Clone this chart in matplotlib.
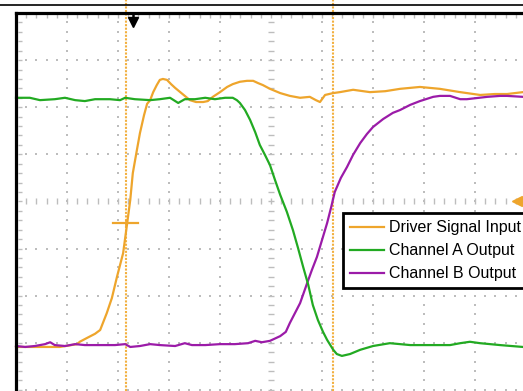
import matplotlib
matplotlib.use("Agg")
import matplotlib.pyplot as plt
import numpy as np

# Scope screen units: time and amplitude both in divisions (10 x 8 graticule)
drv_t = [0, 0.86, 1.2, 1.25, 1.39, 1.55, 1.65, 1.78, 1.88, 1.98,
         2.04, 2.1, 2.18, 2.24, 2.29, 2.37, 2.43, 2.51, 2.57, 2.63,
         2.69, 2.76, 2.82, 2.88, 2.96, 3.04, 3.12, 3.22, 3.31, 3.41,
         3.53, 3.67, 3.76, 3.86, 4.0, 4.14, 4.25, 4.39, 4.53, 4.65,
         4.75, 4.84, 4.98, 5.18, 5.37, 5.57, 5.76, 5.88, 5.96, 6.06,
         6.22, 6.35, 6.61, 6.94, 7.24, 7.53, 7.92, 8.31, 8.71, 9.1,
         9.39, 9.63, 9.94]
drv_v = [0.91, 0.91, 0.97, 1.02, 1.10, 1.19, 1.27, 1.63, 1.95, 2.40,
         2.65, 2.90, 3.54, 4.03, 4.60, 5.09, 5.45, 5.83, 6.07, 6.15,
         6.32, 6.47, 6.58, 6.60, 6.58, 6.49, 6.41, 6.32, 6.24, 6.15,
         6.11, 6.11, 6.13, 6.22, 6.32, 6.43, 6.49, 6.54, 6.56, 6.56,
         6.51, 6.47, 6.39, 6.30, 6.24, 6.20, 6.22, 6.15, 6.11, 6.26,
         6.30, 6.32, 6.37, 6.32, 6.34, 6.39, 6.43, 6.39, 6.32, 6.26,
         6.28, 6.28, 6.32]

cha_t = [0, 0.27, 0.47, 0.76, 0.96, 1.16, 1.35, 1.55, 1.84, 2.04,
         2.14, 2.33, 2.63, 2.82, 3.02, 3.18, 3.31, 3.51, 3.71, 3.9,
         4.1, 4.25, 4.33, 4.39, 4.49, 4.59, 4.69, 4.78, 4.88, 4.98,
         5.08, 5.18, 5.31, 5.43, 5.53, 5.63, 5.73, 5.82, 5.92, 6.02,
         6.1, 6.22, 6.29, 6.39, 6.55, 6.75, 7.0, 7.33, 7.73, 8.18,
         8.51, 8.71, 8.9, 9.1, 9.49, 9.94]
cha_v = [6.20, 6.20, 6.15, 6.17, 6.20, 6.15, 6.13, 6.17, 6.17, 6.15,
         6.20, 6.17, 6.15, 6.17, 6.20, 6.09, 6.17, 6.17, 6.20, 6.17,
         6.20, 6.20, 6.15, 6.09, 5.94, 5.73, 5.47, 5.20, 4.99, 4.77,
         4.45, 4.14, 3.78, 3.39, 3.01, 2.61, 2.23, 1.80, 1.48, 1.23,
         1.06, 0.85, 0.76, 0.72, 0.76, 0.85, 0.93, 0.99, 0.95, 0.95,
         0.95, 0.99, 1.02, 0.99, 0.95, 0.91]

chb_t = [0, 0.18, 0.37, 0.57, 0.67, 0.76, 0.96, 1.16, 1.35, 1.65,
         1.94, 2.14, 2.24, 2.43, 2.63, 2.82, 3.12, 3.31, 3.45, 3.71,
         4.0, 4.29, 4.55, 4.69, 4.82, 4.98, 5.18, 5.29, 5.37, 5.47,
         5.57, 5.71, 5.8, 5.9, 6.0, 6.1, 6.18, 6.25, 6.37, 6.49,
         6.61, 6.75, 6.88, 7.0, 7.2, 7.39, 7.53, 7.73, 7.92, 8.18,
         8.31, 8.51, 8.71, 8.84, 9.0, 9.24, 9.49, 9.63, 9.94]
chb_v = [0.93, 0.91, 0.93, 0.97, 1.01, 0.95, 0.93, 0.97, 0.95, 0.95,
         0.95, 0.97, 0.91, 0.93, 0.97, 0.95, 0.93, 0.99, 0.95, 0.95,
         0.97, 0.97, 0.99, 1.04, 1.01, 1.04, 1.14, 1.23, 1.42, 1.63,
         1.84, 2.27, 2.54, 2.82, 3.18, 3.54, 3.88, 4.20, 4.50, 4.73,
         4.99, 5.24, 5.43, 5.58, 5.75, 5.88, 5.94, 6.05, 6.13, 6.22,
         6.24, 6.24, 6.17, 6.17, 6.19, 6.22, 6.24, 6.24, 6.22]

labels = ["Driver Signal Input", "Channel A Output", "Channel B Output"]
colors = ["#EEA52C", "#22AA22", "#9B1BA8"]

cursor_t = [2.16, 6.21]     # the two time cursors
trig_t = 2.29               # trigger position marker
trig_level = 3.54           # trigger level mark on the driver trace
ref_level = 4.0             # channel offset arrow at right edge

plt.rcParams["font.family"] = ["Liberation Sans", "DejaVu Sans"]

fig = plt.figure(figsize=(5.23, 3.91), dpi=100)
ax = fig.add_axes([0, 0, 1, 1])
ax.set_xlim(-0.314, 9.941)
ax.set_ylim(-0.025, 8.276)
ax.axis("off")

# graticule: dotted major lines, tick marks on the centre axes
grid_col = "#BDBDBD"
hx, hy = np.meshgrid(np.arange(0, 10.01, 0.2), [0, 1, 2, 3, 5, 6, 7])
ax.scatter(hx.ravel(), hy.ravel(), s=1.8, marker="s", color=grid_col, lw=0, zorder=1)
vx, vy = np.meshgrid([1, 2, 3, 4, 6, 7, 8, 9], np.arange(0, 8.01, 0.2))
ax.scatter(vx.ravel(), vy.ravel(), s=1.8, marker="s", color=grid_col, lw=0, zorder=1)
cx = np.arange(0, 10.01, 0.2)
ax.plot(cx, np.full_like(cx, 4.0), ls="none", marker="|", ms=4, mew=1,
        color=grid_col, zorder=1)
cy = np.arange(0, 8.01, 0.2)
ax.plot(np.full_like(cy, 5.0), cy, ls="none", marker="_", ms=4, mew=1,
        color=grid_col, zorder=1)
ax.plot(np.full_like(cy, 0.08), cy, ls="none", marker="_", ms=3, mew=1,
        color=grid_col, zorder=1)
ax.plot(cx, np.full_like(cx, 7.93), ls="none", marker="|", ms=3, mew=1,
        color=grid_col, zorder=1)

# cursors
for t in cursor_t:
    ax.axvline(t, color="#F2B040", lw=1.5, ls=(0, (1, 0.7)), zorder=2)

# traces
line_drv, = ax.plot(drv_t, drv_v, color=colors[0], lw=1.6, zorder=3, label=labels[0])
line_b, = ax.plot(chb_t, chb_v, color=colors[2], lw=1.6, zorder=4, label=labels[2])
line_a, = ax.plot(cha_t, cha_v, color=colors[1], lw=1.6, zorder=5, label=labels[1])

# trigger level mark and channel arrow
ax.plot([trig_t - 0.39, trig_t + 0.1], [trig_level, trig_level], color=colors[0],
        lw=1.6, zorder=3)
ax.plot([cursor_t[0]], [trig_level], marker="|", ms=5, mew=1.2, color=colors[0], zorder=3)
ax.plot([9.82], [ref_level], marker="<", ms=7, color=colors[0], mec=colors[0], zorder=6)

# screen frame and page rule
ax.plot([0, 0], [-0.1, 8.0], color="black", lw=2.3, solid_capstyle="projecting", zorder=7)
ax.plot([0, 10.5], [8.0, 8.0], color="black", lw=2.3, solid_capstyle="projecting", zorder=7)
ax.axhline(8.17, color="black", lw=1.2, zorder=7)

# trigger position arrow
ax.plot([trig_t, trig_t], [8.0, 7.86], color="black", lw=1.8, zorder=8)
ax.plot([trig_t], [7.8], marker="v", ms=7, color="black", zorder=8)

leg = ax.legend(handles=[line_drv, line_a, line_b], loc="upper left",
                bbox_to_anchor=(0.656, 0.455), frameon=True, fancybox=False,
                edgecolor="black", framealpha=1, fontsize=11.5, handlelength=2.1,
                handletextpad=0.35, borderpad=0.45, labelspacing=0.5,
                borderaxespad=0)
leg.get_frame().set_linewidth(2)
leg.set_zorder(10)

fig.savefig("out.png", dpi=100)
